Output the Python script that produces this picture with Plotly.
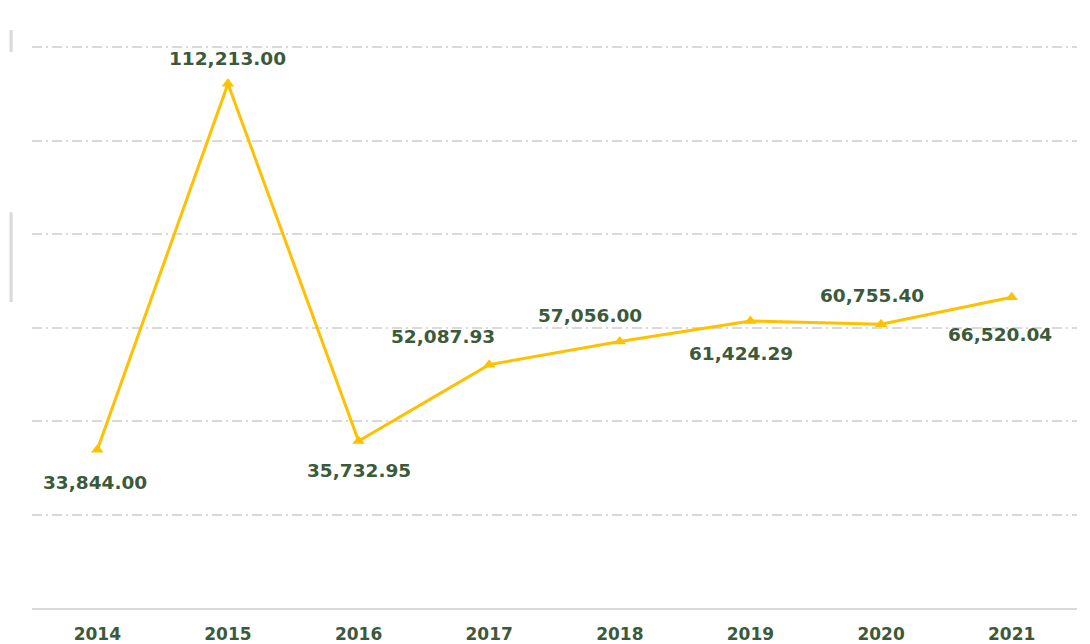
import plotly.graph_objects as go

years = ["2014", "2015", "2016", "2017", "2018", "2019", "2020", "2021"]
values = [33844.00, 112213.00, 35732.95, 52087.93, 57056.00, 61424.29, 60755.40, 66520.04]
grid_vals = [20000, 40000, 60000, 80000, 100000, 120000]

# label offsets in pixels (xshift, yshift)
label_offsets = [(-2, -33), (0, 25), (0, -29), (-46, 28), (-30, 26), (-9, -32), (-9, 29), (-12, -37)]

LINE = "#FFC000"
TXT = "#3B5A3A"
FONT = "DejaVu Sans"

fig = go.Figure()
fig.add_trace(go.Scatter(
    x=years, y=values, mode="lines+markers",
    line=dict(color=LINE, width=3),
    marker=dict(symbol="triangle-up", size=11, color=LINE),
    hoverinfo="skip",
))

for i, (v, (dx, dy)) in enumerate(zip(values, label_offsets)):
    fig.add_annotation(
        x=i, y=v, xref="x", yref="y", text=f"{v:,.2f}", showarrow=False,
        xshift=dx, yshift=dy,
        font=dict(family=FONT, size=18.5, color=TXT, weight="bold"),
    )

# small edge artifacts from the original image
for y0, y1 in [(0.5435, 0.703), (0.9876, 1.0266)]:
    fig.add_shape(type="line", xref="paper", yref="paper",
                  x0=-0.02, x1=-0.02, y0=y0, y1=y1,
                  line=dict(color="#D9D9D9", width=3))

fig.update_layout(
    width=1074, height=636,
    margin=dict(l=24, r=5, t=37, b=36, autoexpand=False),
    paper_bgcolor="white", plot_bgcolor="white",
    showlegend=False,
    xaxis=dict(
        type="category", showgrid=False,
        showline=True, linecolor="#D9D9D9", linewidth=2,
        ticks="outside", ticklen=10, tickcolor="rgba(0,0,0,0)",
        tickfont=dict(family=FONT, size=17, color=TXT, weight="bold"),
        fixedrange=True, range=[-0.5, 7.5],
    ),
    yaxis=dict(
        range=[0, 120500], tickvals=grid_vals, showticklabels=False,
        showgrid=True, gridcolor="#D9D9D9", gridwidth=1.5,
        griddash="10px,4px,2px,4px",
        zeroline=False, showline=False, fixedrange=True,
    ),
)

fig.write_html("out.html")
